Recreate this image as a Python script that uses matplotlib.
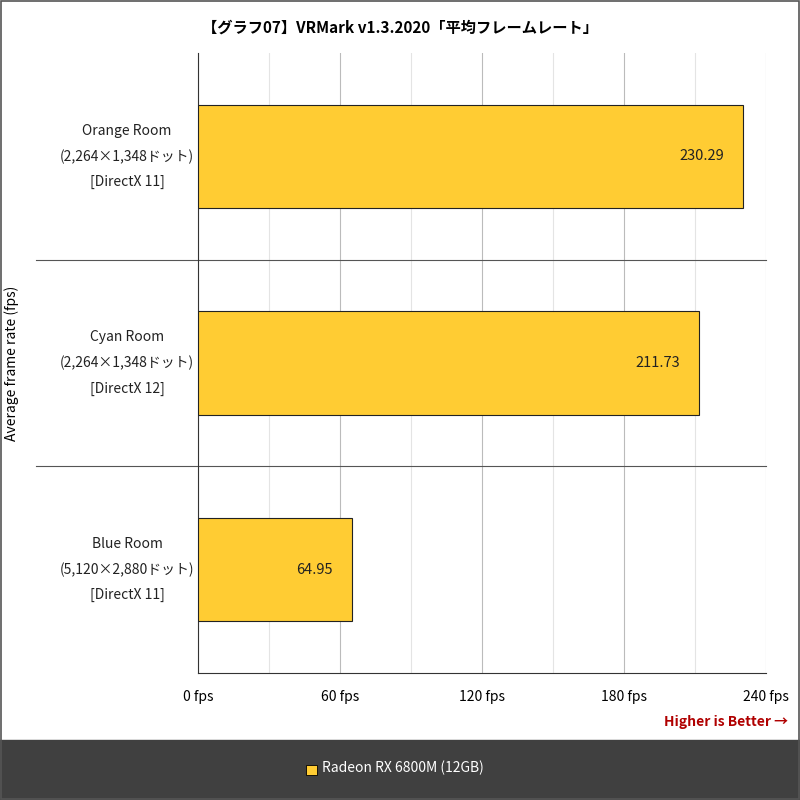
import matplotlib
matplotlib.use("Agg")
import matplotlib.pyplot as plt
from matplotlib.patches import Rectangle

plt.rcParams['font.family'] = ['Noto Sans CJK JP', 'DejaVu Sans']

categories = ["Orange Room\n(2,264×1,348ドット)\n[DirectX 11]",
              "Cyan Room\n(2,264×1,348ドット)\n[DirectX 12]",
              "Blue Room\n(5,120×2,880ドット)\n[DirectX 11]"]
values = [230.29, 211.73, 64.95]
ticks = [0, 60, 120, 180, 240]
tick_labels = ["0 fps", "60 fps", "120 fps", "180 fps", "240 fps"]
series_name = "Radeon RX 6800M (12GB)"
title = "【グラフ07】VRMark v1.3.2020「平均フレームレート」"

fig = plt.figure(figsize=(8, 8), dpi=100)
fig.patch.set_facecolor("white")
ax = fig.add_axes([0.2475, 0.15875, 0.71, 0.775])
n = len(values)
ypos = list(range(n))
ax.barh(ypos, values, height=0.5, color="#FFCC33", edgecolor="#222222", linewidth=0.8, zorder=3)
for y, v in zip(ypos, values):
    ax.text(v - 8, y, f"{v:.2f}", ha="right", va="center", fontsize=10.5, color="#222222", zorder=4)
ax.set_ylim(n - 0.5, -0.5)
ax.set_xlim(0, 240)
ax.set_xticks(ticks)
ax.set_xticklabels(tick_labels, fontsize=10)
ax.set_xticks([30, 90, 150, 210], minor=True)
ax.grid(axis="x", which="major", color="#bbbbbb", lw=0.8, zorder=0)
ax.grid(axis="x", which="minor", color="#e4e4e4", lw=0.8, zorder=0)
ax.tick_params(axis="x", length=0, pad=12, which="both")
ax.set_yticks([])
for s in ["top", "right"]:
    ax.spines[s].set_visible(False)
ax.spines["left"].set_color("#333333")
ax.spines["bottom"].set_color("#333333")
for b in [0.5, 1.5]:
    ax.plot([-0.285, 1], [b, b], transform=ax.get_yaxis_transform(), color="#555555", lw=0.8, clip_on=False)
for y, c in zip(ypos, categories):
    ax.text(-0.125, y, c, transform=ax.get_yaxis_transform(), ha="center", va="center",
            fontsize=10, linespacing=2.0, color="#222222")

fig.text(0.015, 0.546, "Average frame rate (fps)", rotation=90, ha="center", va="center", fontsize=10)
fig.text(0.5, 0.966, title, ha="center", va="center", fontsize=11, fontweight="bold")
fig.text(0.985, 0.098, "Higher is Better →", ha="right", va="center", fontsize=10,
         fontweight="bold", color="#B00000")
fig.add_artist(Rectangle((0, 0), 1, 0.075, transform=fig.transFigure, color="#404040"))
fig.add_artist(Rectangle((0.383, 0.031), 0.013, 0.013, transform=fig.transFigure,
                         facecolor="#FFCC33", edgecolor="black", lw=0.6))
fig.text(0.402, 0.0405, series_name, ha="left", va="center", fontsize=10, color="white")
fig.add_artist(Rectangle((0.001, 0.001), 0.998, 0.998, transform=fig.transFigure,
                         fill=False, edgecolor="#555555", lw=1.2))
fig.savefig("out.png", dpi=100)
